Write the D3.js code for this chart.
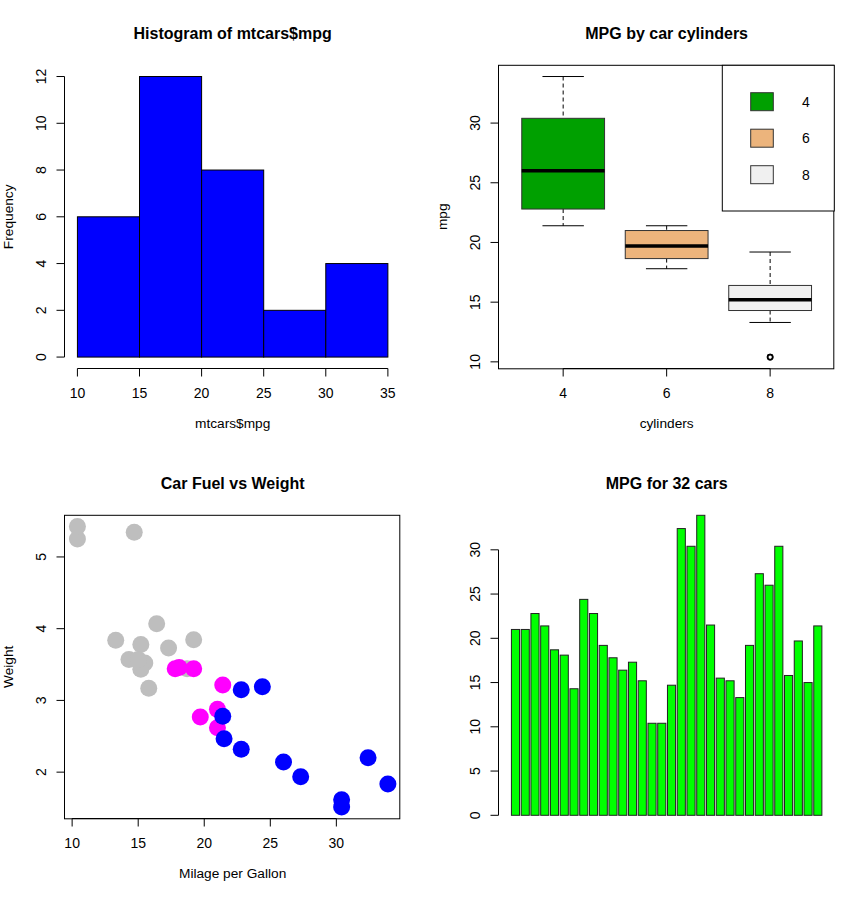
<!DOCTYPE html>
<html>
<head>
<meta charset="utf-8">
<script src="https://cdn.jsdelivr.net/npm/d3@7"></script>
<style>
  body { margin: 0; background: #fff; }
  svg text { font-family: "Liberation Sans", Arial, sans-serif; fill: #000; }
  .title { font-weight: bold; font-size: 16px; }
  .lab { font-size: 13.7px; }
  .tick { font-size: 14px; }
</style>
</head>
<body>
<div id="chart"></div>
<script>
// mtcars values
const mpg = [21.0, 21.0, 22.8, 21.4, 18.7, 18.1, 14.3, 24.4, 22.8, 19.2, 17.8, 16.4, 17.3, 15.2, 10.4, 10.4,
             14.7, 32.4, 30.4, 33.9, 21.5, 15.5, 15.2, 13.3, 19.2, 27.3, 26.0, 30.4, 15.8, 19.7, 15.0, 21.4];
const cyl = [6, 6, 4, 6, 8, 6, 8, 4, 4, 6, 6, 8, 8, 8, 8, 8, 8, 4, 4, 4, 4, 8, 8, 8, 8, 4, 4, 4, 8, 6, 8, 4];
const wt = [2.620, 2.875, 2.320, 3.215, 3.440, 3.460, 3.570, 3.190, 3.150, 3.440, 3.440, 4.070, 3.730, 3.780,
            5.250, 5.424, 5.345, 2.200, 1.615, 1.835, 2.465, 3.520, 3.435, 3.840, 3.845, 1.935, 2.140, 1.513,
            3.170, 2.770, 3.570, 2.780];

// histogram
const histBreaks = [10, 15, 20, 25, 30, 35];
const histCounts = [6, 12, 8, 2, 4];
const histTicksY = [0, 2, 4, 6, 8, 10, 12];

// boxplot (min, lower hinge, median, upper hinge, max) per cylinder group
const boxGroups = ["4", "6", "8"];
const boxLow = [21.4, 17.8, 13.3];
const boxQ1 = [22.8, 18.65, 14.3];
const boxMed = [26.0, 19.7, 15.2];
const boxQ3 = [30.4, 21.0, 16.4];
const boxHigh = [33.9, 21.4, 19.2];
const boxOutliers = [[2, 10.4], [2, 10.4]];
const boxFills = ["#00a000", "#ecb47c", "#f0f0f0"];
const boxTicksY = [10, 15, 20, 25, 30];

const cylColor = {4: "#0000ff", 6: "#ff00ff", 8: "#bebebe"};

const W = 868, H = 900;
const svg = d3.select("#chart").append("svg").attr("width", W).attr("height", H);

// plot region inside each 434x450 panel
const pl = 65, pr = 400.3, pt = 65.3, pb = 368.3;

function panel(ox, oy) {
  return svg.append("g").attr("transform", `translate(${ox},${oy})`);
}

function title(g, txt) {
  g.append("text").attr("class", "title").attr("x", (pl + pr) / 2).attr("y", 39.3)
    .attr("text-anchor", "middle").text(txt);
}
function xlab(g, txt) {
  g.append("text").attr("class", "lab").attr("x", (pl + pr) / 2).attr("y", 428)
    .attr("text-anchor", "middle").text(txt);
}
function ylab(g, txt) {
  g.append("text").attr("class", "lab").attr("transform", `translate(13,${(pt + pb) / 2}) rotate(-90)`)
    .attr("text-anchor", "middle").text(txt);
}
// R style axes: line spans first..last tick, ticks outward 8px
function axisBottom(g, x, ticks, labels) {
  const a = g.append("g").attr("transform", `translate(0,${Math.round(pb) + 0.5})`);
  a.append("line").attr("x1", x(ticks[0])).attr("x2", x(ticks[ticks.length - 1]))
    .attr("stroke", "#000");
  ticks.forEach((t, i) => {
    a.append("line").attr("x1", x(t)).attr("x2", x(t)).attr("y1", 0).attr("y2", 8).attr("stroke", "#000");
    a.append("text").attr("class", "tick").attr("x", x(t)).attr("y", 29)
      .attr("text-anchor", "middle").text(labels ? labels[i] : t);
  });
}
function axisLeft(g, y, ticks) {
  const a = g.append("g").attr("transform", `translate(${pl - 0.5},0)`);
  a.append("line").attr("y1", y(ticks[0])).attr("y2", y(ticks[ticks.length - 1]))
    .attr("stroke", "#000");
  ticks.forEach(t => {
    a.append("line").attr("y1", y(t)).attr("y2", y(t)).attr("x1", 0).attr("x2", -8).attr("stroke", "#000");
    a.append("text").attr("class", "tick")
      .attr("transform", `translate(-18.5,${y(t)}) rotate(-90)`)
      .attr("text-anchor", "middle").text(t);
  });
}
function frame(g) {
  g.append("rect").attr("x", pl - 0.5).attr("y", pt).attr("width", pr - pl).attr("height", pb - pt + 0.5)
    .attr("fill", "none").attr("stroke", "#000");
}
// R pads ranges by 4%
function pad(lo, hi) { const d = (hi - lo) * 0.04; return [lo - d, hi + d]; }

// ---------- Panel 1: histogram ----------
{
  const g = panel(0, 0);
  const x = d3.scaleLinear().domain(pad(10, 35)).range([pl, pr]);
  const y = d3.scaleLinear().domain(pad(0, 12)).range([pb, pt]);
  g.selectAll("rect.bin").data(histCounts).join("rect").attr("class", "bin")
    .attr("x", (d, i) => x(histBreaks[i])).attr("width", (d, i) => x(histBreaks[i + 1]) - x(histBreaks[i]))
    .attr("y", d => y(d)).attr("height", d => y(0) - y(d))
    .attr("fill", "#0000ff").attr("stroke", "#000").attr("stroke-width", 1);
  axisBottom(g, x, histBreaks);
  axisLeft(g, y, histTicksY);
  title(g, "Histogram of mtcars$mpg");
  xlab(g, "mtcars$mpg");
  ylab(g, "Frequency");
}

// ---------- Panel 2: boxplot ----------
{
  const g = panel(434, 0);
  const x = d3.scaleLinear().domain(pad(0.5, 3.5)).range([pl, pr]);
  const y = d3.scaleLinear().domain(pad(10.4, 33.9)).range([pb, pt]);
  const bw = x(1.4) - x(1), sw = x(1.2) - x(1);
  boxGroups.forEach((grp, i) => {
    const cx = x(i + 1);
    g.append("line").attr("x1", cx).attr("x2", cx).attr("y1", y(boxHigh[i])).attr("y2", y(boxQ3[i]))
      .attr("stroke", "#000").attr("stroke-dasharray", "4,3");
    g.append("line").attr("x1", cx).attr("x2", cx).attr("y1", y(boxQ1[i])).attr("y2", y(boxLow[i]))
      .attr("stroke", "#000").attr("stroke-dasharray", "4,3");
    [boxHigh[i], boxLow[i]].forEach(v => {
      g.append("line").attr("x1", cx - sw).attr("x2", cx + sw).attr("y1", y(v)).attr("y2", y(v))
        .attr("stroke", "#000");
    });
    g.append("rect").attr("x", cx - bw).attr("width", 2 * bw)
      .attr("y", y(boxQ3[i])).attr("height", y(boxQ1[i]) - y(boxQ3[i]))
      .attr("fill", boxFills[i]).attr("stroke", "#333");
    g.append("line").attr("x1", cx - bw).attr("x2", cx + bw).attr("y1", y(boxMed[i])).attr("y2", y(boxMed[i]))
      .attr("stroke", "#000").attr("stroke-width", 3.5);
  });
  g.selectAll("circle.out").data(boxOutliers).join("circle").attr("class", "out")
    .attr("cx", d => x(d[0] + 1)).attr("cy", d => y(d[1])).attr("r", 2.6)
    .attr("fill", "none").attr("stroke", "#000").attr("stroke-width", 1.5);
  frame(g);
  axisBottom(g, d => x(d), [1, 2, 3], boxGroups);
  axisLeft(g, y, boxTicksY);

  // legend
  const leg = g.append("g");
  leg.append("rect").attr("x", 288.3).attr("y", pt).attr("width", pr - 288.3).attr("height", 211 - pt)
    .attr("fill", "#fff").attr("stroke", "#000");
  boxGroups.forEach((grp, i) => {
    const cy = 101.7 + i * 36.5;
    leg.append("rect").attr("x", 316.7).attr("y", cy - 9).attr("width", 22.6).attr("height", 18)
      .attr("fill", boxFills[i]).attr("stroke", "#333");
    leg.append("text").attr("class", "tick").attr("x", 368).attr("y", cy + 5).text(grp);
  });
  title(g, "MPG by car cylinders");
  xlab(g, "cylinders");
  ylab(g, "mpg");
}

// ---------- Panel 3: scatter ----------
{
  const g = panel(0, 450);
  const x = d3.scaleLinear().domain(pad(d3.min(mpg), d3.max(mpg))).range([pl, pr]);
  const y = d3.scaleLinear().domain(pad(d3.min(wt), d3.max(wt))).range([pb, pt]);
  g.selectAll("circle").data(mpg).join("circle")
    .attr("cx", d => x(d)).attr("cy", (d, i) => y(wt[i])).attr("r", 8.5)
    .attr("fill", (d, i) => cylColor[cyl[i]]);
  frame(g);
  axisBottom(g, x, [10, 15, 20, 25, 30]);
  axisLeft(g, y, [2, 3, 4, 5]);
  title(g, "Car Fuel vs Weight");
  xlab(g, "Milage per Gallon");
  ylab(g, "Weight");
}

// ---------- Panel 4: barplot ----------
{
  const g = panel(434, 450);
  const x = d3.scaleLinear().domain(pad(0.2, 38.4)).range([pl, pr]);
  const y = d3.scaleLinear().domain([-0.01 * d3.max(mpg), d3.max(mpg)]).range([pb, pt]);
  g.selectAll("rect").data(mpg).join("rect")
    .attr("x", (d, i) => x(0.2 + i * 1.2)).attr("width", x(1) - x(0))
    .attr("y", d => y(d)).attr("height", d => y(0) - y(d))
    .attr("fill", "#00ff00").attr("stroke", "#222");
  axisLeft(g, y, [0, 5, 10, 15, 20, 25, 30]);
  title(g, "MPG for 32 cars");
}
</script>
</body>
</html>
